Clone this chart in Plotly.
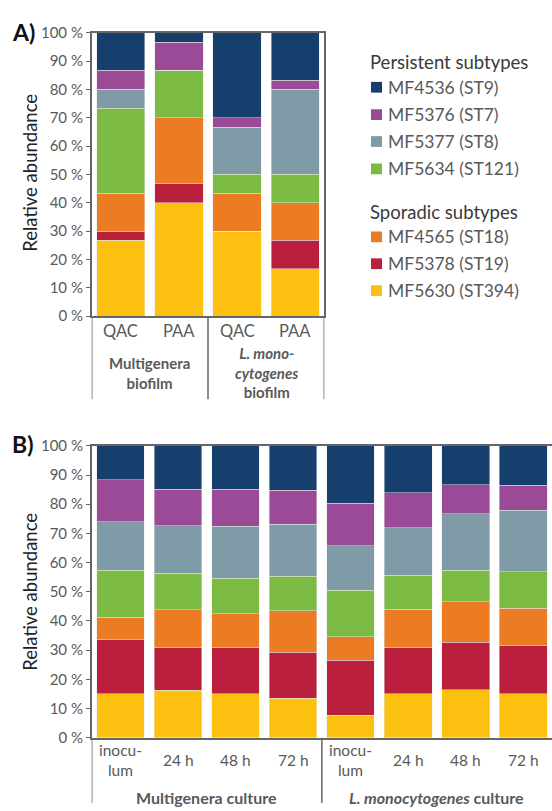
import plotly.graph_objects as go

# ---- data -------------------------------------------------------------
subtypes = ["MF4536 (ST9)", "MF5376 (ST7)", "MF5377 (ST8)", "MF5634 (ST121)",
            "MF4565 (ST18)", "MF5378 (ST19)", "MF5630 (ST394)"]
colors = ["#163F6E", "#9A4A97", "#7F9BA8", "#7BBA43",
          "#EB7C24", "#BA1F3E", "#FBC010"]
legend_groups = ["Persistent subtypes", "Sporadic subtypes"]
group_sizes = [4, 3]

# Panel A: biofilms after disinfection
a_labels = ["QAC", "PAA", "QAC", "PAA"]
a_groups = ["<b>Multigenera<br>biofilm</b>",
            "<b><i>L. mono-<br>cytogenes</i><br>biofilm</b>"]
a_values = {
    "MF4536 (ST9)":   [13.3, 3.3, 30.0, 16.7],
    "MF5376 (ST7)":   [6.7, 10.0, 3.3, 3.3],
    "MF5377 (ST8)":   [6.7, 0.0, 16.7, 30.0],
    "MF5634 (ST121)": [30.0, 16.7, 6.7, 10.0],
    "MF4565 (ST18)":  [13.3, 23.3, 13.3, 13.3],
    "MF5378 (ST19)":  [3.3, 6.7, 0.0, 10.0],
    "MF5630 (ST394)": [26.7, 40.0, 30.0, 16.7],
}

# Panel B: planktonic cultures over time
b_labels = ["inocu-<br>lum", "24 h", "48 h", "72 h",
            "inocu-<br>lum", "24 h", "48 h", "72 h"]
b_groups = ["<b>Multigenera culture</b>", "<b><i>L. monocytogenes</i> culture</b>"]
b_values = {
    "MF4536 (ST9)":   [11.7, 14.9, 14.9, 15.3, 19.6, 16.1, 13.3, 13.5],
    "MF5376 (ST7)":   [14.3, 12.4, 12.6, 11.5, 14.7, 12.0, 10.0, 8.5],
    "MF5377 (ST8)":   [16.7, 16.4, 17.8, 17.9, 15.1, 16.3, 19.4, 21.1],
    "MF5634 (ST121)": [16.1, 12.5, 12.2, 11.8, 16.0, 11.6, 10.7, 12.5],
    "MF4565 (ST18)":  [7.4, 13.0, 11.5, 14.2, 8.1, 13.0, 13.9, 12.7],
    "MF5378 (ST19)":  [18.8, 14.6, 16.0, 15.7, 18.8, 16.0, 16.3, 16.7],
    "MF5630 (ST394)": [15.0, 16.2, 15.0, 13.6, 7.7, 15.0, 16.4, 15.0],
}

y_ticks = list(range(0, 101, 10))
y_tick_text = [f"{v} %" for v in y_ticks]

# ---- layout constants ---------------------------------------------------
W, H = 552, 811
FONT = "Lato"
GREY = "#595959"
LINE = "#666666"


def px_x(v):
    return v / W


def px_y(v):
    return 1 - v / H


fig = go.Figure()

# stacked bars, bottom segment first
seg_line = dict(color="rgba(230,230,230,0.6)", width=0.8)
for name in reversed(subtypes):
    col = colors[subtypes.index(name)]
    fig.add_trace(go.Bar(x=list(range(len(a_labels))), y=a_values[name], name=name,
                         marker=dict(color=col, line=seg_line),
                         xaxis="x", yaxis="y", showlegend=False))
    fig.add_trace(go.Bar(x=list(range(len(b_labels))), y=b_values[name], name=name,
                         marker=dict(color=col, line=seg_line),
                         xaxis="x2", yaxis="y2", showlegend=False))

axis_common = dict(showgrid=False, zeroline=False, showline=True, linecolor=LINE, linewidth=1.5)
yaxis_common = dict(axis_common, range=[0, 100], tickmode="array",
                    tickvals=y_ticks, ticktext=y_tick_text,
                    ticks="outside", ticklen=4, tickcolor=LINE, tickwidth=1.2,
                    tickfont=dict(family=FONT, size=15, color=GREY))

fig.update_layout(
    width=W, height=H, margin=dict(l=0, r=0, t=0, b=0),
    paper_bgcolor="white", plot_bgcolor="white",
    barmode="stack", bargap=0.17,
    xaxis=dict(axis_common, domain=[px_x(91.7), px_x(324.3)], range=[-0.5, len(a_labels) - 0.5],
               showticklabels=False, mirror=True, anchor="y"),
    yaxis=dict(yaxis_common, domain=[px_y(313), px_y(23.3)], mirror=True, anchor="x"),
    xaxis2=dict(axis_common, domain=[px_x(91.7), 1.0], range=[-0.5, len(b_labels) - 0.5],
                showticklabels=False, mirror=True, anchor="y2"),
    yaxis2=dict(yaxis_common, domain=[px_y(744.3), px_y(445.7)], anchor="x2"),
)

ann = []
shapes = []

# panel letters and y titles
for letter, ly, ty in [("A)", 22, 166.5), ("B)", 444, 595)]:
    ann.append(dict(text=f"<b>{letter}</b>", x=px_x(10), y=px_y(ly), xref="paper", yref="paper",
                    xanchor="left", yanchor="middle", showarrow=False,
                    font=dict(family=FONT, size=23, color="#111111")))
    ann.append(dict(text="Relative abundance", x=px_x(30), y=px_y(ty), xref="paper", yref="paper",
                    textangle=-90, xanchor="center", yanchor="middle", showarrow=False,
                    font=dict(family=FONT, size=18.5, color="#222222")))

# panel A category labels
for i, lab in enumerate(a_labels):
    ann.append(dict(text=lab, x=i, y=px_y(328), xref="x", yref="paper", showarrow=False,
                    xanchor="center", yanchor="middle",
                    font=dict(family=FONT, size=16.5, color=GREY)))

# panel A group labels and dividers
a_group_y = [371, 371]
for g, t in enumerate(a_groups):
    centre = g * 2 + 0.5
    ann.append(dict(text=t, x=centre, y=px_y(a_group_y[g]), xref="x", yref="paper",
                    showarrow=False, xanchor="center", yanchor="middle",
                    font=dict(family=FONT, size=15, color=GREY)))
for xd in [-0.5, 1.5, 3.5]:
    shapes.append(dict(type="line", xref="x", yref="paper", x0=xd, x1=xd,
                       y0=px_y(313), y1=px_y(398), line=dict(color=LINE, width=1.5)))

# panel B category labels
for i, lab in enumerate(b_labels):
    ann.append(dict(text=lab, x=i, y=px_y(767), xref="x2", yref="paper", showarrow=False,
                    xanchor="center", yanchor="middle",
                    font=dict(family=FONT, size=15.5, color=GREY)))

# panel B group labels and dividers
for g, t in enumerate(b_groups):
    centre = g * 4 + 1.5
    ann.append(dict(text=t, x=centre, y=px_y(805), xref="x2", yref="paper", showarrow=False,
                    xanchor="center", yanchor="middle",
                    font=dict(family=FONT, size=16, color=GREY)))
for xd in [-0.5, 3.5]:
    shapes.append(dict(type="line", xref="x2", yref="paper", x0=xd, x1=xd,
                       y0=px_y(744.3), y1=0, line=dict(color=LINE, width=1.5)))

# legend, drawn as grouped blocks beside panel A
header_y = [52.7, 206.7]
row_y = [[79, 107, 134.5, 162.5], [232, 259.5, 287]]
k = 0
for g, header in enumerate(legend_groups):
    ann.append(dict(text=header, x=px_x(368), y=px_y(header_y[g]), xref="paper", yref="paper",
                    showarrow=False, xanchor="left", yanchor="middle",
                    font=dict(family=FONT, size=18.5, color="#3a3a3a")))
    for r in range(group_sizes[g]):
        yy = row_y[g][r]
        shapes.append(dict(type="rect", xref="paper", yref="paper",
                           x0=px_x(371), x1=px_x(382), y0=px_y(yy + 5.5), y1=px_y(yy - 5.5),
                           fillcolor=colors[k], line=dict(width=0)))
        ann.append(dict(text=subtypes[k], x=px_x(386), y=px_y(yy), xref="paper", yref="paper",
                        showarrow=False, xanchor="left", yanchor="middle",
                        font=dict(family=FONT, size=17.5, color=GREY)))
        k += 1

fig.update_layout(annotations=ann, shapes=shapes)
fig.write_html("out.html")
